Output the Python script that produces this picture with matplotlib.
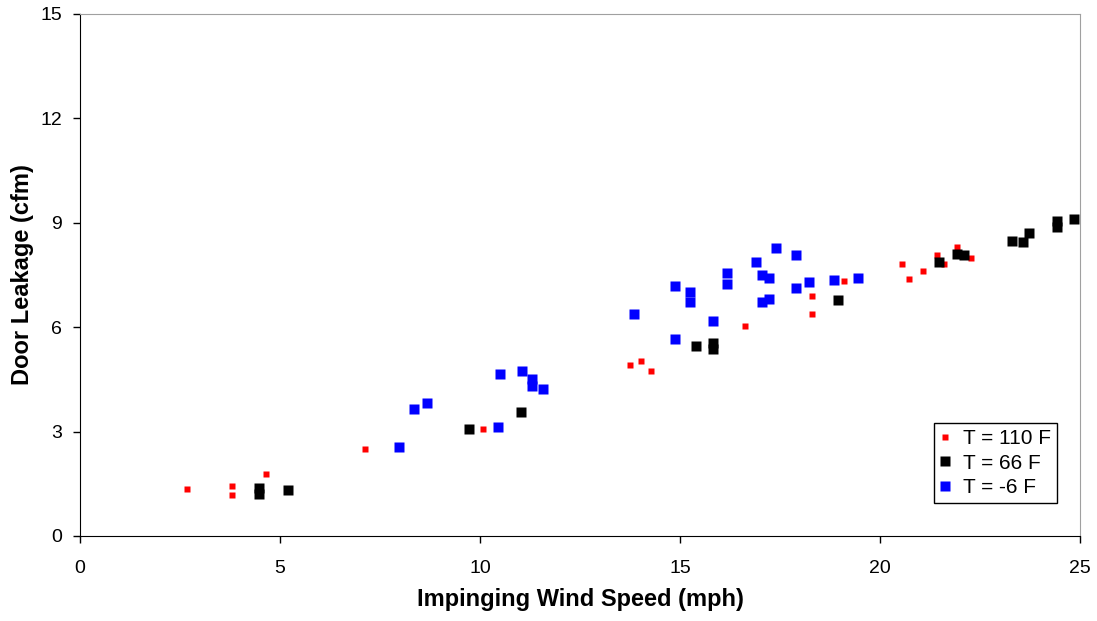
import matplotlib
matplotlib.use('Agg')
import matplotlib.pyplot as plt

# T = 110 F
x_110 = [2.68, 3.79, 3.79, 4.66, 7.13, 10.08, 13.75, 14.02, 14.28, 16.63,
         18.31, 18.31, 19.09, 20.56, 20.73, 21.08, 21.43, 21.61, 21.93, 22.27]
y_110 = [1.35, 1.43, 1.17, 1.77, 2.51, 3.07, 4.92, 5.03, 4.75, 6.04,
         6.90, 6.38, 7.33, 7.81, 7.39, 7.61, 8.08, 7.81, 8.30, 7.98]

# T = 66 F
x_66 = [4.48, 4.48, 5.19, 9.73, 11.03, 15.39, 15.83, 15.83, 18.96, 21.47,
        21.93, 22.10, 23.29, 23.58, 23.73, 24.43, 24.43, 24.84]
y_66 = [1.37, 1.22, 1.33, 3.08, 3.55, 5.45, 5.55, 5.38, 6.77, 7.88,
        8.09, 8.07, 8.48, 8.44, 8.71, 9.04, 8.88, 9.11]

# T = -6 F
x_m6 = [7.98, 8.34, 8.68, 10.46, 10.51, 11.05, 11.31, 11.31, 11.57, 13.86,
        14.88, 14.88, 15.26, 15.26, 15.82, 16.18, 16.18, 16.89, 17.39, 17.89,
        17.06, 17.23, 17.06, 17.23, 17.89, 18.23, 18.84, 19.46]
y_m6 = [2.57, 3.65, 3.83, 3.12, 4.66, 4.75, 4.51, 4.31, 4.23, 6.37,
        7.18, 5.65, 7.02, 6.72, 6.18, 7.55, 7.24, 7.86, 8.27, 8.06,
        7.49, 7.41, 6.72, 6.81, 7.14, 7.31, 7.36, 7.40]

plt.rcParams['font.family'] = ['Liberation Sans', 'DejaVu Sans']

fig = plt.figure(figsize=(10.97, 6.21), dpi=100)
ax = fig.add_axes([0.0729, 0.1369, 0.9116, 0.8406])

ax.plot(x_110, y_110, 's', color='red', markersize=4.2, mec='none', label='T = 110 F')
ax.plot(x_66, y_66, 's', color='black', markersize=6.8, mec='none', label='T = 66 F')
ax.plot(x_m6, y_m6, 's', color='blue', markersize=6.8, mec='none', label='T = -6 F')

ax.set_xlim(0, 25)
ax.set_ylim(0, 15)
ax.set_xticks([0, 5, 10, 15, 20, 25])
ax.set_yticks([0, 3, 6, 9, 12, 15])
ax.tick_params(direction='out', length=5, width=1, labelsize=14)
ax.tick_params(axis='y', pad=8)
ax.tick_params(axis='x', pad=12)

ax.spines['top'].set_color('#a0a0a0')
ax.spines['right'].set_color('#a0a0a0')

ax.set_xlabel('Impinging Wind Speed (mph)', fontsize=17, fontweight='bold', labelpad=8)
ax.set_ylabel('Door Leakage (cfm)', fontsize=17, fontweight='bold')
ax.yaxis.set_label_coords(-0.046, 0.5)

leg = ax.legend(loc='lower right', bbox_to_anchor=(0.977, 0.063), fontsize=15,
                frameon=True, fancybox=False, edgecolor='black', framealpha=1,
                handlelength=0.5, handletextpad=0.6, borderpad=0.3, labelspacing=0.25,
                borderaxespad=0)
leg.get_frame().set_linewidth(1.0)

fig.savefig('out.png', dpi=100)
